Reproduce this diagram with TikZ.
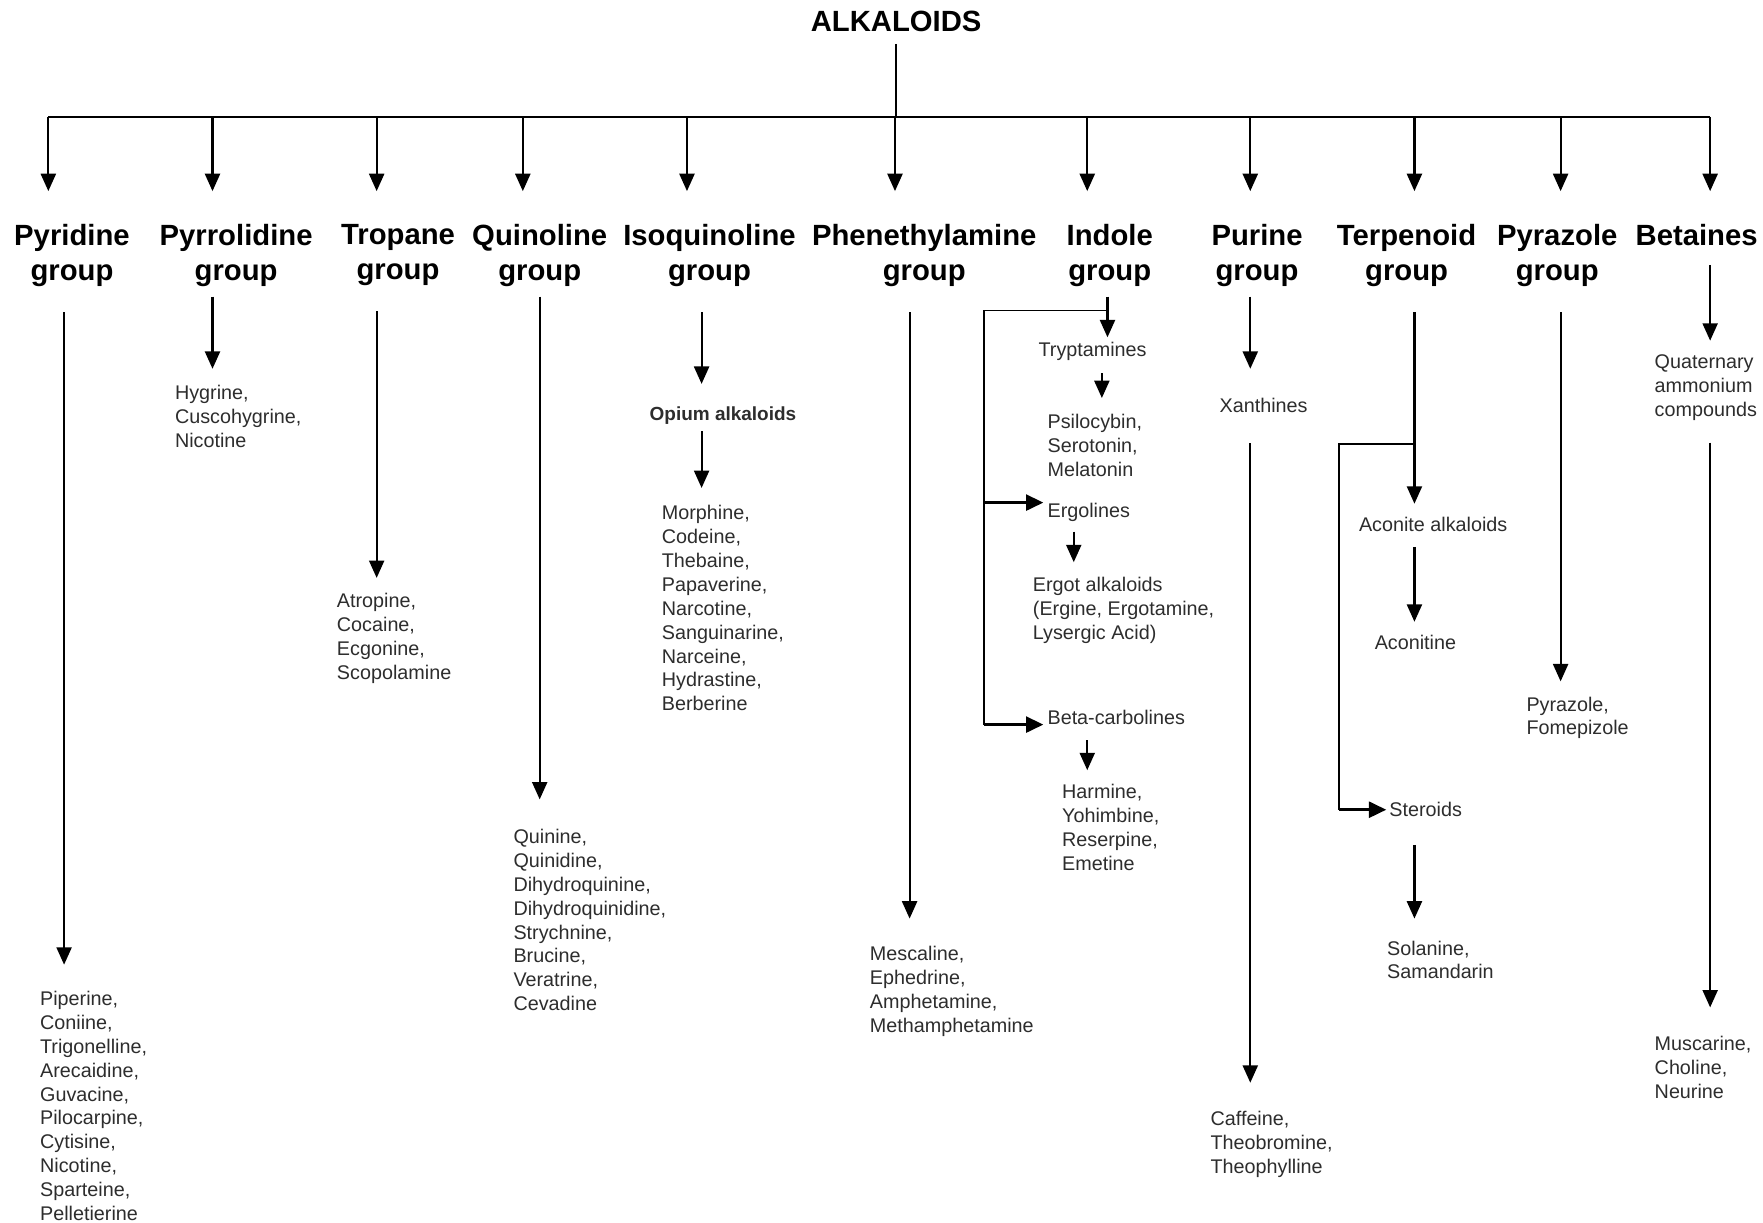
\documentclass[tikz,border=0pt]{standalone}
\usepackage{fontspec}
\setmainfont{Liberation Sans}
\usetikzlibrary{arrows.meta}
\definecolor{TextGray}{RGB}{45,45,45}

\tikzset{
  grp/.style={font=\bfseries\fontsize{7.4}{8.8}\selectfont, align=center, inner sep=0pt, anchor=north},
  sub/.style={font=\bfseries\fontsize{4.8}{6}\selectfont, inner sep=0pt, text=TextGray},
  itm/.style={font=\fontsize{5}{6.03}\selectfont, align=left, inner sep=0pt, anchor=north west, text=TextGray},
  arr/.style={-{Triangle[width=3.8pt,length=4.4pt]}, line width=0.55pt},
  branch/.style={-{Triangle[width=4pt,length=4.4pt]}, line width=0.8pt},
  stem/.style={line width=0.35pt}
}

\begin{document}
\begin{tikzpicture}[x=0.01cm, y=-0.01cm]
  \useasboundingbox (0,0) rectangle (1568,1087);

  % Root and main bar
  \node[grp, anchor=center] (alk) at (797,19) {ALKALOIDS};
  \coordinate (bar) at (797,104);
  \draw[stem, shorten <=0.1cm] (alk.south) -- (bar);
  \draw[line width=0.55pt] (bar -| 43,0) -- (bar -| 1521,0);

  % Group labels
  \node[grp] (pyridine) at (64,199) {Pyridine\\group};
  \node[grp] (pyrrolidine) at (210,199) {Pyrrolidine\\group};
  \node[grp] (tropane) at (354,199) {Tropane\\group};
  \node[grp] (quinoline) at (480,199) {Quinoline\\group};
  \node[grp] (isoquinoline) at (631,199) {Isoquinoline\\group};
  \node[grp] (phenethyl) at (822,199) {Phenethylamine\\group};
  \node[grp] (indole) at (987,199) {Indole\\group};
  \node[grp] (purine) at (1118,199) {Purine\\group};
  \node[grp] (terpenoid) at (1251,199) {Terpenoid\\group};
  \node[grp] (pyrazole) at (1385,199) {Pyrazole\\group};
  \node[grp] (betaines) at (1509,199) {Betaines};

  % Arrows from the bar
  \foreach \x/\g in {43/pyridine, 189/pyrrolidine, 335/tropane, 465/quinoline,
                     611/isoquinoline, 796/phenethyl, 967/indole, 1112/purine,
                     1258/terpenoid, 1388/pyrazole, 1521/betaines}
    \draw[arr, shorten >=0.29cm] (bar -| \x,0) -- (\g.north -| \x,0);

  % Pyridine
  \node[itm] (pyrlist) at (35,881) {Piperine,\\Coniine,\\Trigonelline,\\Arecaidine,\\Guvacine,\\Pilocarpine,\\Cytisine,\\Nicotine,\\Sparteine,\\Pelletierine};
  \draw[arr, shorten <=.22cm, shorten >=.23cm] (pyridine.south -| 57,0) -- (pyrlist.north -| 57,0);

  % Pyrrolidine
  \node[itm] (pyrrlist) at (155,342) {Hygrine,\\Cuscohygrine,\\Nicotine};
  \draw[arr, shorten <=.08cm, shorten >=.14cm] (pyrrolidine.south -| 189,0) -- (pyrrlist.north -| 189,0);

  % Tropane
  \node[itm] (troplist) at (299,527) {Atropine,\\Cocaine,\\Ecgonine,\\Scopolamine};
  \draw[arr, shorten <=.22cm, shorten >=.13cm] (tropane.south -| 335,0) -- (troplist.north -| 335,0);

  % Quinoline
  \node[itm] (quinlist) at (456,737) {Quinine,\\Quinidine,\\Dihydroquinine,\\Dihydroquinidine,\\Strychnine,\\Brucine,\\Veratrine,\\Cevadine};
  \draw[arr, shorten <=.08cm, shorten >=.26cm] (quinoline.south -| 480,0) -- (quinlist.north -| 480,0);

  % Isoquinoline
  \node[sub] (opium) at (643,370) {Opium alkaloids};
  \node[itm] (opilist) at (588,449) {Morphine,\\Codeine,\\Thebaine,\\Papaverine,\\Narcotine,\\Sanguinarine,\\Narceine,\\Hydrastine,\\Berberine};
  \draw[arr, shorten <=.22cm, shorten >=.2cm] (isoquinoline.south -| 624,0) -- (opium.north -| 624,0);
  \draw[arr, shorten <=.05cm, shorten >=.15cm] (opium.south -| 624,0) -- (opilist.north -| 624,0);

  % Phenethylamine
  \node[itm] (phenlist) at (773,841) {Mescaline,\\Ephedrine,\\Amphetamine,\\Methamphetamine};
  \draw[arr, shorten <=.22cm, shorten >=.24cm] (phenethyl.south -| 809,0) -- (phenlist.north -| 809,0);

  % Indole
  \node[itm] (trypt) at (923,304) {Tryptamines};
  \node[itm] (psilo) at (931,368) {Psilocybin,\\Serotonin,\\Melatonin};
  \node[itm] (ergol) at (931,447) {Ergolines};
  \node[itm] (ergot) at (918,513) {Ergot alkaloids\\(Ergine, Ergotamine,\\Lysergic Acid)};
  \node[itm] (beta) at (931,631) {Beta-carbolines};
  \node[itm] (harm) at (944,697) {Harmine,\\Yohimbine,\\Reserpine,\\Emetine};
  \coordinate (ij) at (985,276);
  \coordinate (il) at (875,276);
  \draw[arr, shorten <=.08cm, shorten >=.04cm] (indole.south -| 985,0) -- (trypt.north -| 985,0);
  \draw[stem] (ij) -- (il) -- (il |- beta.base west);
  \draw[branch, shorten >=.03cm] (il |- ergol.north west) -- (ergol.north west);
  \draw[branch, shorten >=.03cm] (il |- beta.base west) -- (beta.base west);
  \draw[arr, shorten <=.1cm, shorten >=.14cm] (trypt.south -| 980,0) -- (psilo.north -| 980,0);
  \draw[arr, shorten <=.08cm, shorten >=.13cm] (ergol.south -| 955,0) -- (ergot.north -| 955,0);
  \draw[arr, shorten <=.13cm, shorten >=.12cm] (beta.south -| 967,0) -- (harm.north -| 967,0);

  % Purine
  \node[itm] (xanth) at (1084,353) {Xanthines};
  \node[itm] (caff) at (1076,988) {Caffeine,\\Theobromine,\\Theophylline};
  \draw[arr, shorten <=.08cm, shorten >=.25cm] (purine.south -| 1112,0) -- (xanth.north -| 1112,0);
  \draw[arr, shorten <=.27cm, shorten >=.25cm] (xanth.south -| 1112,0) -- (caff.north -| 1112,0);

  % Terpenoid
  \node[itm] (acon) at (1208,459) {Aconite alkaloids};
  \node[itm] (aconit) at (1222,564) {Aconitine};
  \node[itm] (ster) at (1235,713) {Steroids};
  \node[itm] (sola) at (1233,836) {Solanine,\\Samandarin};
  \coordinate (tj) at (1258,395);
  \coordinate (tl) at (1191,395);
  \draw[arr, shorten <=.22cm, shorten >=.11cm] (terpenoid.south -| 1258,0) -- (acon.north -| 1258,0);
  \draw[stem] (tj) -- (tl) -- (tl |- ster.west);
  \draw[branch, shorten >=.02cm] (tl |- ster.west) -- (ster.west);
  \draw[arr, shorten <=.13cm, shorten >=.11cm] (acon.south -| 1258,0) -- (aconit.north -| 1258,0);
  \draw[arr, shorten <=.24cm, shorten >=.19cm] (ster.south -| 1258,0) -- (sola.north -| 1258,0);

  % Pyrazole
  \node[itm] (pyrazlist) at (1357,619) {Pyrazole,\\Fomepizole};
  \draw[arr, shorten <=.22cm, shorten >=.13cm] (pyrazole.south -| 1388,0) -- (pyrazlist.north -| 1388,0);

  % Betaines
  \node[itm] (quat) at (1471,315) {Quaternary\\ammonium\\compounds};
  \node[itm] (musc) at (1471,921) {Muscarine,\\Choline,\\Neurine};
  \draw[arr, shorten <=.16cm, shorten >=.12cm] (betaines.south -| 1521,0) -- (quat.north -| 1521,0);
  \draw[arr, shorten <=.19cm, shorten >=.25cm] (quat.south -| 1521,0) -- (musc.north -| 1521,0);
\end{tikzpicture}
\end{document}
